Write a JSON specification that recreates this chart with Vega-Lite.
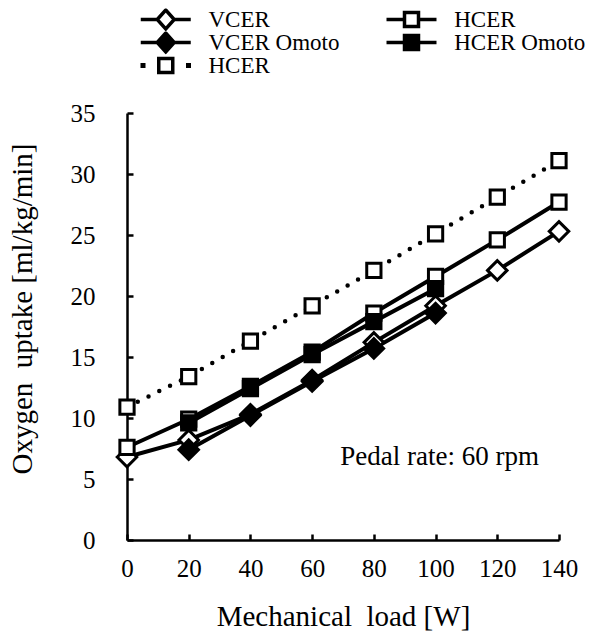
{
  "$schema": "https://vega.github.io/schema/vega-lite/v6.json",
  "width": 432,
  "height": 427,
  "autosize": {"type": "none"},
  "padding": {"left": 127, "top": 113, "right": 42, "bottom": 93},
  "background": "white",
  "config": {
    "view": {"stroke": null},
    "font": "Liberation Serif",
    "axis": {
      "grid": false,
      "domainColor": "black",
      "domainWidth": 2.5,
      "tickColor": "black",
      "tickWidth": 2.5,
      "labelFont": "Liberation Serif",
      "labelColor": "black",
      "labelFontSize": 25,
      "titleFont": "Liberation Serif",
      "titleColor": "black",
      "titleFontSize": 29,
      "titleFontWeight": "normal",
      "labelOverlap": false,
      "labelFlush": false
    },
    "legend": {
      "orient": "none",
      "legendX": 12.75,
      "legendY": -104.5,
      "columns": 2,
      "columnPadding": 45.75,
      "rowPadding": 0,
      "clipHeight": 22,
      "padding": 0,
      "symbolSize": 400,
      "symbolOffset": 14,
      "symbolStrokeWidth": 3.5,
      "symbolOpacity": 1,
      "labelFont": "Liberation Serif",
      "labelFontSize": 23,
      "labelColor": "black",
      "labelOffset": 30.75,
      "labelLimit": 300
    }
  },
  "data": {
    "values": [
      {"series": "VCER", "load": 0, "vo2": 6.8},
      {"series": "VCER", "load": 20, "vo2": 8.2},
      {"series": "VCER", "load": 40, "vo2": 10.3},
      {"series": "VCER", "load": 60, "vo2": 13.1},
      {"series": "VCER", "load": 80, "vo2": 16.2},
      {"series": "VCER", "load": 100, "vo2": 19.2},
      {"series": "VCER", "load": 120, "vo2": 22.1},
      {"series": "VCER", "load": 140, "vo2": 25.3},
      {"series": "HCER", "load": 0, "vo2": 7.6},
      {"series": "HCER", "load": 20, "vo2": 9.9},
      {"series": "HCER", "load": 40, "vo2": 12.6},
      {"series": "HCER", "load": 60, "vo2": 15.4},
      {"series": "HCER", "load": 80, "vo2": 18.6},
      {"series": "HCER", "load": 100, "vo2": 21.6},
      {"series": "HCER", "load": 120, "vo2": 24.6},
      {"series": "HCER", "load": 140, "vo2": 27.7},
      {"series": "HCER (dotted)", "load": 0, "vo2": 10.9},
      {"series": "HCER (dotted)", "load": 20, "vo2": 13.4},
      {"series": "HCER (dotted)", "load": 40, "vo2": 16.3},
      {"series": "HCER (dotted)", "load": 60, "vo2": 19.2},
      {"series": "HCER (dotted)", "load": 80, "vo2": 22.1},
      {"series": "HCER (dotted)", "load": 100, "vo2": 25.1},
      {"series": "HCER (dotted)", "load": 120, "vo2": 28.1},
      {"series": "HCER (dotted)", "load": 140, "vo2": 31.1},
      {"series": "VCER Omoto", "load": 20, "vo2": 7.4},
      {"series": "VCER Omoto", "load": 40, "vo2": 10.2},
      {"series": "VCER Omoto", "load": 60, "vo2": 13.0},
      {"series": "VCER Omoto", "load": 80, "vo2": 15.7},
      {"series": "VCER Omoto", "load": 100, "vo2": 18.6},
      {"series": "HCER Omoto", "load": 20, "vo2": 9.6},
      {"series": "HCER Omoto", "load": 40, "vo2": 12.4},
      {"series": "HCER Omoto", "load": 60, "vo2": 15.2},
      {"series": "HCER Omoto", "load": 80, "vo2": 17.9},
      {"series": "HCER Omoto", "load": 100, "vo2": 20.6}
    ]
  },
  "encoding": {
    "x": {
      "field": "load",
      "type": "quantitative",
      "scale": {"domain": [0, 140], "nice": false, "zero": false},
      "axis": {
        "values": [0, 20, 40, 60, 80, 100, 120, 140],
        "title": "Mechanical\u00a0 load [W]",
        "tickSize": -6,
        "labelPadding": 22,
        "titleY": 85,
        "titleBaseline": "alphabetic"
      }
    },
    "y": {
      "field": "vo2",
      "type": "quantitative",
      "scale": {"domain": [0, 35], "nice": false, "zero": false},
      "axis": {
        "values": [0, 5, 10, 15, 20, 25, 30, 35],
        "title": "Oxygen\u00a0 uptake [ml/kg/min]",
        "tickSize": -6,
        "labelPadding": 38,
        "titleX": -104.5,
        "titleY": 195.5,
        "titleAngle": -90,
        "titleAlign": "center",
        "titleBaseline": "middle"
      }
    }
  },
  "layer": [
    {
      "transform": [{"filter": "datum.series != 'HCER (dotted)'"}],
      "mark": {"type": "line", "color": "black", "strokeWidth": 4, "strokeCap": "round"},
      "encoding": {"detail": {"field": "series", "type": "nominal"}}
    },
    {
      "transform": [{"filter": "datum.series == 'HCER (dotted)'"}],
      "mark": {"type": "line", "color": "black", "strokeWidth": 4.5, "strokeCap": "round", "strokeDash": [0, 12]},
      "encoding": {"detail": {"field": "series", "type": "nominal"}}
    },
    {
      "transform": [{"filter": {"field": "series", "oneOf": ["VCER", "VCER Omoto"]}}],
      "mark": {"type": "point", "filled": true, "stroke": "black", "strokeWidth": 3, "opacity": 1, "size": 225, "shape": "M-1.3,0L0,-1.3L1.3,0L0,1.3Z"},
      "encoding": {
        "fill": {"condition": {"test": "indexof(datum.series, 'Omoto') >= 0", "value": "black"}, "value": "white"}
      }
    },
    {
      "transform": [{"filter": {"field": "series", "oneOf": ["HCER", "HCER (dotted)", "HCER Omoto"]}}],
      "mark": {"type": "point", "filled": true, "stroke": "black", "strokeWidth": 3, "opacity": 1, "size": 225, "shape": "M-0.95,-0.95L0.95,-0.95L0.95,0.95L-0.95,0.95Z"},
      "encoding": {
        "fill": {"condition": {"test": "indexof(datum.series, 'Omoto') >= 0", "value": "black"}, "value": "white"}
      }
    },
    {
      "mark": {"type": "point", "filled": true, "strokeWidth": 3.5, "opacity": 0, "size": 400},
      "encoding": {
        "stroke": {
          "field": "series",
          "type": "nominal",
          "scale": {
            "domain": ["VCER", "VCER Omoto", "HCER (dotted)", "HCER", "HCER Omoto"],
            "range": ["black", "black", "black", "black", "black"]
          },
          "legend": {"title": null, "labelExpr": "datum.label == 'HCER (dotted)' ? 'HCER' : datum.label"}
        },
        "shape": {
          "field": "series",
          "type": "nominal",
          "scale": {
            "domain": ["VCER", "VCER Omoto", "HCER (dotted)", "HCER", "HCER Omoto"],
            "range": [
              "M-2.5,0L-0.85,0M-0.85,0L0,-0.95L0.85,0L0,0.95ZM0.85,0L2.5,0",
              "M-2.5,0L-0.85,0M-0.85,0L0,-0.95L0.85,0L0,0.95ZM0.85,0L2.5,0",
              "M-2.35,-0.08L-2.2,-0.08L-2.2,0.08L-2.35,0.08ZM-0.7,-0.7L0.7,-0.7L0.7,0.7L-0.7,0.7ZM2.2,-0.08L2.35,-0.08L2.35,0.08L2.2,0.08Z",
              "M-2.5,0L-0.7,0M-0.7,-0.7L0.7,-0.7L0.7,0.7L-0.7,0.7ZM0.7,0L2.5,0",
              "M-2.5,0L-0.7,0M-0.7,-0.7L0.7,-0.7L0.7,0.7L-0.7,0.7ZM0.7,0L2.5,0"
            ]
          },
          "legend": {"title": null, "labelExpr": "datum.label == 'HCER (dotted)' ? 'HCER' : datum.label"}
        },
        "fill": {
          "field": "series",
          "type": "nominal",
          "scale": {
            "domain": ["VCER", "VCER Omoto", "HCER (dotted)", "HCER", "HCER Omoto"],
            "range": ["white", "black", "white", "white", "black"]
          },
          "legend": {"title": null, "labelExpr": "datum.label == 'HCER (dotted)' ? 'HCER' : datum.label"}
        }
      }
    },
    {
      "data": {"values": [{"load": 133.5, "vo2": 6.15, "label": "Pedal rate: 60 rpm"}]},
      "mark": {"type": "text", "align": "right", "baseline": "alphabetic", "font": "Liberation Serif", "fontSize": 27, "color": "black"},
      "encoding": {"text": {"field": "label", "type": "nominal"}}
    }
  ]
}
